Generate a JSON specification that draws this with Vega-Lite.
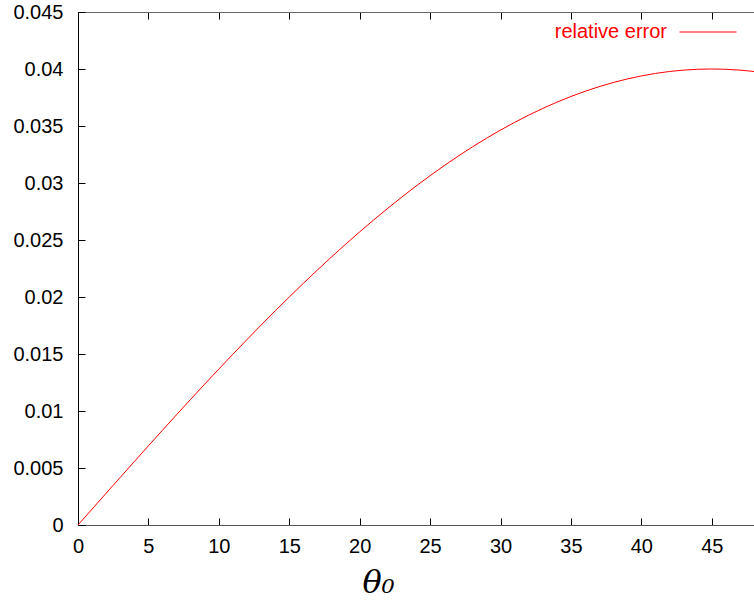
{
  "$schema": "https://vega.github.io/schema/vega-lite/v6.json",
  "width": 676,
  "height": 513,
  "autosize": {"type": "none"},
  "padding": {"left": 78, "top": 12, "right": 0, "bottom": 79},
  "background": "white",
  "config": {
    "view": {"stroke": null},
    "font": "Liberation Sans",
    "axis": {"grid": false, "labelFont": "Liberation Sans", "labelFontSize": 20, "labelColor": "black", "tickColor": "black", "tickSize": -7, "tickWidth": 1, "labelFlush": false}
  },
  "data": {"values": [
    {"theta": 0, "err": 0},
    {"theta": 1, "err": 0.001396},
    {"theta": 2, "err": 0.00279},
    {"theta": 3, "err": 0.004181},
    {"theta": 4, "err": 0.005567},
    {"theta": 5, "err": 0.006946},
    {"theta": 6, "err": 0.008316},
    {"theta": 7, "err": 0.009677},
    {"theta": 8, "err": 0.011025},
    {"theta": 9, "err": 0.012361},
    {"theta": 10, "err": 0.013681},
    {"theta": 11, "err": 0.014984},
    {"theta": 12, "err": 0.016269},
    {"theta": 13, "err": 0.017535},
    {"theta": 14, "err": 0.018779},
    {"theta": 15, "err": 0.02},
    {"theta": 16, "err": 0.021197},
    {"theta": 17, "err": 0.022368},
    {"theta": 18, "err": 0.023511},
    {"theta": 19, "err": 0.024626},
    {"theta": 20, "err": 0.025712},
    {"theta": 21, "err": 0.026765},
    {"theta": 22, "err": 0.027786},
    {"theta": 23, "err": 0.028774},
    {"theta": 24, "err": 0.029726},
    {"theta": 25, "err": 0.030642},
    {"theta": 26, "err": 0.03152},
    {"theta": 27, "err": 0.032361},
    {"theta": 28, "err": 0.033162},
    {"theta": 29, "err": 0.033922},
    {"theta": 30, "err": 0.034641},
    {"theta": 31, "err": 0.035318},
    {"theta": 32, "err": 0.035952},
    {"theta": 33, "err": 0.036542},
    {"theta": 34, "err": 0.037087},
    {"theta": 35, "err": 0.037588},
    {"theta": 36, "err": 0.038042},
    {"theta": 37, "err": 0.03845},
    {"theta": 38, "err": 0.038812},
    {"theta": 39, "err": 0.039126},
    {"theta": 40, "err": 0.039392},
    {"theta": 41, "err": 0.039611},
    {"theta": 42, "err": 0.039781},
    {"theta": 43, "err": 0.039903},
    {"theta": 44, "err": 0.039976},
    {"theta": 45, "err": 0.04},
    {"theta": 46, "err": 0.039976},
    {"theta": 47, "err": 0.039903},
    {"theta": 48, "err": 0.039781}
  ]},
  "layer": [
    {
      "mark": {"type": "line", "strokeWidth": 1, "interpolate": "monotone"},
      "encoding": {
        "x": {"field": "theta", "type": "quantitative", "scale": {"domain": [0, 48], "nice": false, "zero": false},
          "axis": {"orient": "bottom", "values": [0,5,10,15,20,25,30,35,40,45], "domainColor": "#555555", "labelPadding": 18,
            "title": "θ₀", "titleFont": "DejaVu Serif", "titleFontStyle": "italic", "titleFontWeight": "normal", "titleFontSize": 32, "titleColor": "black",
            "titleX": 300, "titleY": 67, "titleAlign": "center", "titleBaseline": "alphabetic"}},
        "y": {"field": "err", "type": "quantitative", "scale": {"domain": [0, 0.045], "nice": false},
          "axis": {"values": [0,0.005,0.01,0.015,0.02,0.025,0.03,0.035,0.04,0.045], "format": "~g", "domainColor": "black", "labelPadding": 22, "title": null}},
        "color": {"datum": "relative error", "type": "nominal", "scale": {"range": ["#ff0000"]},
          "legend": {"title": null, "orient": "none", "legendX": 601, "legendY": -9, "symbolType": "stroke", "symbolSize": 3249, "symbolStrokeWidth": 1, "labelAlign": "right", "labelOffset": -70, "labelFontSize": 20, "labelColor": "#ff0000", "labelFont": "Liberation Sans", "padding": 0}}
      }
    },
    {
      "mark": {"type": "line", "strokeWidth": 1, "opacity": 0},
      "encoding": {
        "x": {"field": "theta", "type": "quantitative",
          "axis": {"orient": "top", "values": [0,5,10,15,20,25,30,35,40,45], "labels": false, "domainColor": "#666666", "title": null}}
      }
    }
  ]
}
